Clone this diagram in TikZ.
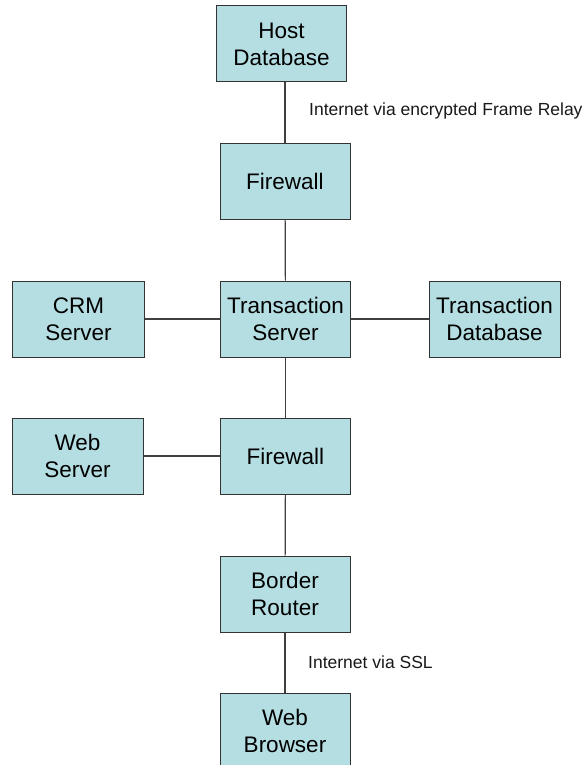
\documentclass[tikz,border=0pt]{standalone}
\usepackage{fontspec}
\setmainfont{Liberation Sans}
\definecolor{boxfill}{HTML}{B4DEE2}
\definecolor{linegray}{HTML}{404040}
\begin{document}
\begin{tikzpicture}[x=1pt,y=-1pt,
  netbox/.style={draw=black!80,line width=1pt,fill=boxfill,minimum width=130pt,minimum height=76pt,
    align=center,inner sep=0pt,font=\fontsize{22.5}{27}\selectfont},
  link/.style={draw=linegray,line width=1.2pt},
  netlabel/.style={anchor=west,inner sep=0pt,font=\fontsize{17.5}{20}\selectfont,text=black!90}]
\useasboundingbox (0,0) rectangle (587,765);
\fill[white] (0,0) rectangle (587,765);
\clip (0,0) rectangle (587,765);
\node[netbox] (host) at (281.5,44) {Host\\Database};
\node[netbox] (fw1) at (285,181.5) {Firewall};
\node[netbox,minimum width=132pt] (crm) at (78.5,319) {CRM\\Server};
\node[netbox] (ts) at (285.5,319) {Transaction\\Server};
\node[netbox,minimum width=131pt] (tdb) at (494.5,319) {Transaction\\Database};
\node[netbox,minimum width=131pt] (ws) at (77.5,456) {Web\\Server};
\node[netbox] (fw2) at (285.5,456) {Firewall};
\node[netbox] (br) at (285,594) {Border\\Router};
\node[netbox] (wb) at (285,731) {Web\\Browser};
\draw[link] (host.south -| fw1.north) -- (fw1.north);
\draw[link] (fw1) -- (ts);
\draw[link] (crm) -- (ts);
\draw[link] (ts) -- (tdb);
\draw[link] (ts) -- (fw2);
\draw[link] (ws) -- (fw2);
\draw[link] (fw2) -- (br);
\draw[link] (br) -- (wb);
\node[netlabel] (l1) at (309,111) {Internet via encrypted Frame Relay};
\node[netlabel] (l2) at (308,662) {Internet via SSL};
\end{tikzpicture}
\end{document}
